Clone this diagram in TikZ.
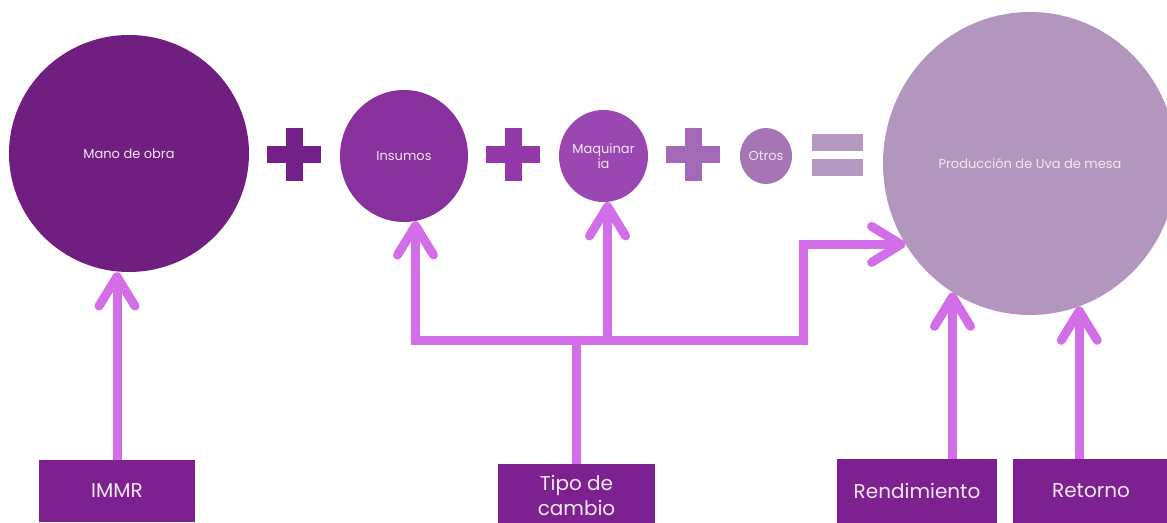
\documentclass[tikz,border=0pt]{standalone}
\usepackage{fontspec}
\setmainfont{Poppins}
\usetikzlibrary{arrows.meta,shapes.geometric}

\definecolor{manocol}{HTML}{701E80}
\definecolor{inscol}{HTML}{88309C}
\definecolor{maqcol}{HTML}{9B47B2}
\definecolor{otroscol}{HTML}{A676B4}
\definecolor{prodcol}{HTML}{B396BD}
\definecolor{plusA}{HTML}{73208A}
\definecolor{plusB}{HTML}{9338A8}
\definecolor{plusC}{HTML}{A368B6}
\definecolor{eqcol}{HTML}{B398C0}
\definecolor{boxcol}{HTML}{7E2190}
\definecolor{linkcol}{HTML}{D16EE8}
\definecolor{labelcol}{HTML}{F4E8F4}

\tikzset{
  x=0.75pt, y=-0.75pt,
  bubble/.style={ellipse, inner sep=0pt, text=labelcol,
    font=\fontsize{9.75}{11.25}\selectfont, align=center},
  factor/.style={fill=boxcol, inner sep=0pt, text=labelcol,
    font=\fontsize{15}{19}\selectfont, align=center},
  conn/.style={draw=linkcol, line width=6.75pt, line join=miter},
  >={Straight Barb[length=22pt,width=27pt,round]},
  plussign/.pic={
    \fill[#1] (-27,-8.5) rectangle (27,8.5);
    \fill[#1] (-8.5,-26.5) rectangle (8.5,26.5);
  },
  equalsign/.pic={
    \fill[#1] (-25.5,-21) rectangle (25.5,-4);
    \fill[#1] (-25.5,4) rectangle (25.5,21);
  }
}

\begin{document}
\begin{tikzpicture}
\useasboundingbox (0,0) rectangle (1167,523);
\clip (0,0) rectangle (1167,523);

% terms of the sum
\node[bubble, fill=manocol, minimum width=180pt, minimum height=177.75pt]
  (mano) at (129,153.5) {Mano de obra};
\node[bubble, fill=inscol, minimum width=96pt, minimum height=99pt]
  (insumos) at (404,156) {Insumos};
\node[bubble, fill=maqcol, minimum width=66.75pt, minimum height=69pt]
  (maq) at (603.5,156) {Maquinar\\ia};
\node[bubble, fill=otroscol, minimum width=39pt, minimum height=42pt]
  (otros) at (766,156) {Otros};
\node[bubble, fill=prodcol, minimum width=220.5pt, minimum height=227.25pt]
  (prod) at (1030,163.5) {Producción de Uva de mesa};

% operators
\pic (opA) at (294,154.5) {plussign=plusA};
\pic (opB) at (513,154.5) {plussign=plusB};
\pic (opC) at (693,154.5) {plussign=plusC};
\pic (opD) at (837.5,155) {equalsign=eqcol};

% driving factors
\node[factor, minimum width=117pt, minimum height=46.5pt]
  (immr) at (117,491) {IMMR};
\node[factor, minimum width=117.75pt, minimum height=47.25pt]
  (tipo) at (576.5,495.5) {Tipo de\\cambio};
\node[factor, minimum width=120pt, minimum height=48pt]
  (rend) at (917,491) {Rendimiento};
\node[factor, minimum width=117pt, minimum height=48pt]
  (ret) at (1091,491) {Retorno};

% connectors
\coordinate (split) at (576.5,341);
\coordinate (bend) at (803,341);

\draw[conn,->] (immr.north) -- (immr.north |- mano.south);
\draw[conn] (tipo.north) -- (split);
\draw[conn,<->] (insumos.-80) |- (split) -| (maq.-85);
\draw[conn,->] (split) -- (bend) |- (prod.-147);
\draw[conn,->] (rend.north -| prod.-121) -- (prod.-121);
\draw[conn,->] (ret.north -| prod.-71) -- (prod.-71);
\end{tikzpicture}
\end{document}
